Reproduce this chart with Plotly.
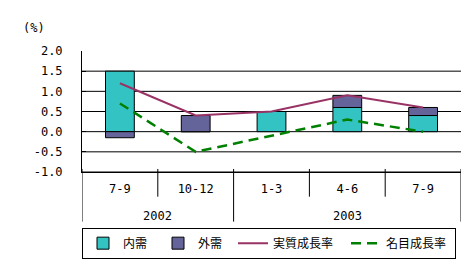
import plotly.graph_objects as go

# ---- data ----
quarters = ["7-9", "10-12", "1-3", "4-6", "7-9"]
years = ["2002", "2002", "2003", "2003", "2003"]
domestic = [1.5, 0.0, 0.5, 0.6, 0.4]      # 内需
external = [-0.15, 0.4, 0.0, 0.3, 0.2]    # 外需
real_growth = [1.2, 0.4, 0.5, 0.9, 0.6]   # 実質成長率
nominal_growth = [0.7, -0.5, -0.1, 0.3, 0.0]  # 名目成長率
y_ticks = [2.0, 1.5, 1.0, 0.5, 0.0, -0.5, -1.0]

x = list(range(len(quarters)))

MONO = "DejaVu Sans Mono"
JP = "Noto Sans CJK JP"

fig = go.Figure()
fig.add_trace(go.Bar(x=x, y=domestic, name="内需", legendwidth=30,
                     marker=dict(color="#33c3c3", line=dict(color="black", width=1))))
fig.add_trace(go.Bar(x=x, y=external, name="外需", legendwidth=30,
                     marker=dict(color="#64649a", line=dict(color="black", width=1))))
fig.add_trace(go.Scatter(x=x, y=real_growth, name="実質成長率", mode="lines", legendwidth=68,
                         line=dict(color="#993366", width=2)))
fig.add_trace(go.Scatter(x=x, y=nominal_growth, name="名目成長率", mode="lines", legendwidth=64,
                         line=dict(color="#008000", width=2.5, dash="10px,6px")))

shapes = []
# horizontal grid lines (every tick except the top one)
for v in y_ticks[1:]:
    shapes.append(dict(type="line", xref="paper", yref="y", x0=0, x1=1, y0=v, y1=v,
                       line=dict(color="black", width=1), layer="below"))
# category separators (table below the axis)
n = len(quarters)
for i in range(n + 1):
    b = i - 0.5
    is_year_bound = (i == 0 or i == n or years[i] != years[i - 1])
    shapes.append(dict(type="line", xref="x", yref="paper", x0=b, x1=b,
                       y0=0.025, y1=(-0.41 if is_year_bound else -0.204),
                       line=dict(color="black", width=1)))

annotations = []
# year labels centered on their groups
for yr in dict.fromkeys(years):
    idx = [i for i, v in enumerate(years) if v == yr]
    annotations.append(dict(x=sum(idx) / len(idx), y=0, xref="x", yref="paper",
                            yshift=-43.5, text=yr, showarrow=False,
                            font=dict(family=MONO, size=12, color="black"),
                            xanchor="center", yanchor="middle"))
annotations.append(dict(x=0, y=1, xref="paper", yref="paper", xshift=-48, yshift=23.5,
                        text="(%)", showarrow=False,
                        font=dict(family=MONO, size=12, color="black"),
                        xanchor="center", yanchor="middle"))

fig.update_layout(
    width=475, height=261,
    margin=dict(l=82, r=14, t=51, b=89, autoexpand=False),
    paper_bgcolor="white", plot_bgcolor="white",
    barmode="relative", bargap=0.62,
    showlegend=True,
    legend=dict(orientation="h", x=0, y=-0.46, xanchor="left", yanchor="top",
                bordercolor="black", borderwidth=1,
                font=dict(family=JP, size=12, color="black"),
                traceorder="normal", tracegroupgap=0),
    xaxis=dict(range=[-0.5, n - 0.5], tickvals=x, ticktext=quarters, ticks="",
               showgrid=False, zeroline=False, showline=True, linecolor="black", linewidth=1,
               tickfont=dict(family=MONO, size=12, color="black"), ticklabelstandoff=6),
    yaxis=dict(range=[-1.0, 2.0], tickvals=y_ticks, ticktext=[f"{v:.1f}" for v in y_ticks],
               ticks="inside", ticklen=4, tickcolor="black",
               showgrid=False, zeroline=False, showline=True, linecolor="black", linewidth=1,
               tickfont=dict(family=MONO, size=12, color="black"), ticklabelstandoff=16),
    shapes=shapes,
    annotations=annotations,
)

fig.write_html("out.html")
